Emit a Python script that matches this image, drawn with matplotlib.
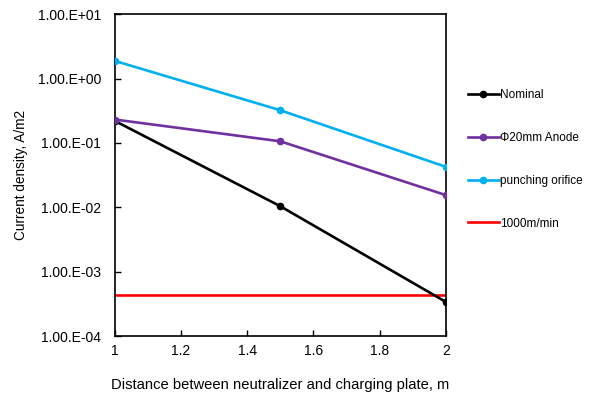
import matplotlib
matplotlib.use('Agg')
import matplotlib.pyplot as plt
from matplotlib.ticker import FuncFormatter

plt.rcParams['font.family'] = ['Liberation Sans', 'DejaVu Sans']

distance = [1.0, 1.5, 2.0]
nominal = [0.22, 0.0104, 3.4e-4]
anode = [0.231, 0.106, 0.0155]
orifice = [1.88, 0.322, 0.0426]
limit_level = 4.4e-4
labels = ['Nominal', '\u03a620mm Anode', 'punching orifice', '1000m/min']

fig = plt.figure(figsize=(6.14, 3.94), dpi=100)
ax = fig.add_axes([0.187, 0.147, 0.539, 0.817])

ax.plot(distance, nominal, color='black', lw=1.9, marker='o', ms=4.5, label=labels[0], zorder=3)
ax.plot(distance, anode, color='#7030A0', lw=1.9, marker='o', ms=4.5, label=labels[1], zorder=3)
ax.plot(distance, orifice, color='#00B0F0', lw=1.9, marker='o', ms=4.5, label=labels[2], zorder=3)
ax.plot([distance[0], distance[-1]], [limit_level, limit_level], color='#FF0000', lw=1.9,
        label=labels[3], zorder=2)

ax.set_yscale('log')
ax.set_ylim(1e-4, 1e1)
ax.set_xlim(1, 2)
ax.set_xticks([1, 1.2, 1.4, 1.6, 1.8, 2])
ax.set_xticklabels(['1', '1.2', '1.4', '1.6', '1.8', '2'])
ax.set_yticks([1e-4, 1e-3, 1e-2, 1e-1, 1e0, 1e1])
ax.minorticks_off()

def fmt(v, pos):
    s = '%.2E' % v
    m, e = s.split('E')
    return m + '.E' + e

ax.yaxis.set_major_formatter(FuncFormatter(fmt))
ax.tick_params(direction='in', length=4, width=1, labelsize=10, colors='black')
ax.tick_params(axis='x', pad=6)
ax.tick_params(axis='y', pad=10)
for sp in ax.spines.values():
    sp.set_linewidth(1.2)

ax.set_xlabel('Distance between neutralizer and charging plate, m', fontsize=10.6, labelpad=14)
ax.set_ylabel('Current density, A/m2', fontsize=9.8, labelpad=7)

fig.legend(loc='upper left', bbox_to_anchor=(0.745, 0.80), frameon=False, fontsize=8.5,
           handlelength=2.6, handletextpad=0.1, labelspacing=2.6)

fig.savefig('out.png', dpi=100)
